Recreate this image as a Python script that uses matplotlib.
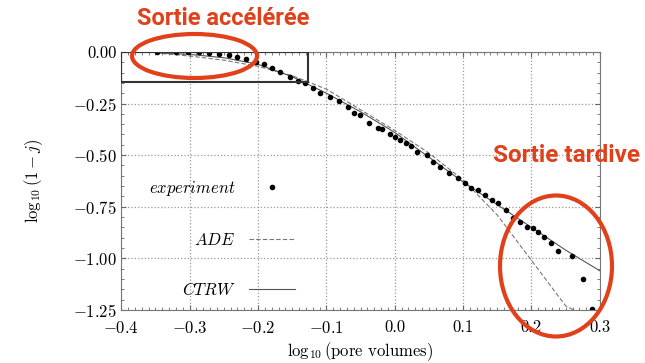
import matplotlib
matplotlib.use('Agg')
import matplotlib.pyplot as plt
from matplotlib.patches import Ellipse, Rectangle
from matplotlib.ticker import MultipleLocator

# experiment points
exp_x = [-0.348, -0.320, -0.302, -0.286, -0.271, -0.257, -0.243, -0.231, -0.218, -0.203,
         -0.191, -0.179, -0.168, -0.153, -0.141, -0.131, -0.119, -0.109, -0.095, -0.082,
         -0.069, -0.060, -0.051, -0.037, -0.024, -0.019, -0.007, 0.000, 0.008, 0.017,
         0.024, 0.032, 0.047, 0.056, 0.066, 0.080, 0.093, 0.103, 0.112, 0.122,
         0.132, 0.142, 0.151, 0.163, 0.173, 0.183, 0.193, 0.202, 0.210, 0.219,
         0.229, 0.239, 0.259, 0.276, 0.289]
exp_y = [0.000, 0.000, -0.001, -0.002, -0.005, -0.010, -0.015, -0.023, -0.035, -0.050,
         -0.060, -0.079, -0.097, -0.123, -0.139, -0.152, -0.176, -0.200, -0.217, -0.238,
         -0.268, -0.297, -0.305, -0.343, -0.369, -0.374, -0.398, -0.410, -0.426, -0.442,
         -0.455, -0.483, -0.499, -0.531, -0.556, -0.588, -0.612, -0.636, -0.661, -0.669,
         -0.693, -0.717, -0.733, -0.765, -0.806, -0.822, -0.846, -0.854, -0.871, -0.895,
         -0.927, -0.963, -0.987, -1.101, -1.247]

ade_x = [-0.35, -0.30, -0.25, -0.20, -0.15, -0.10, -0.05, 0.00, 0.05, 0.10, 0.15, 0.20, 0.25, 0.262]
ade_y = [-0.005, -0.02, -0.04, -0.07, -0.115, -0.18, -0.28, -0.38, -0.49, -0.62, -0.79, -1.01, -1.23, -1.25]

ctrw_x = [-0.35, -0.30, -0.25, -0.20, -0.15, -0.10, -0.05, 0.00, 0.05, 0.10, 0.15, 0.20, 0.25, 0.30]
ctrw_y = [-0.005, -0.012, -0.028, -0.06, -0.12, -0.2, -0.29, -0.39, -0.51, -0.63, -0.74, -0.85, -0.96, -1.06]

xticks = [-0.4, -0.3, -0.2, -0.1, 0.0, 0.1, 0.2, 0.3]
yticks = [0.00, -0.25, -0.50, -0.75, -1.00, -1.25]

plt.rcParams['font.family'] = 'serif'
plt.rcParams['font.serif'] = ['cmr10']
plt.rcParams['mathtext.fontset'] = 'cm'
plt.rcParams['axes.formatter.use_mathtext'] = True
plt.rcParams['axes.unicode_minus'] = True

fig = plt.figure(figsize=(6.45, 3.63), dpi=100)
ax = fig.add_axes([0.188, 0.146, 0.742, 0.711])

ax.plot(ade_x, ade_y, color='#777777', lw=0.8, ls=(0, (4, 2)), label='$ADE$')
ax.plot(ctrw_x, ctrw_y, color='#555555', lw=0.8, label='$CTRW$')
ax.plot(exp_x, exp_y, 'o', color='black', ms=3, label='$experiment$')

# box around the early points
ax.add_patch(Rectangle((-0.4, -0.145), 0.273, 0.145, fill=False, ec='#333333', lw=1.5, zorder=5))

ax.set_xlim(-0.4, 0.3)
ax.set_ylim(-1.25, 0.0)
ax.set_xticks(xticks)
ax.set_yticks(yticks)
ax.set_yticklabels(['%.2f' % v if v == 0 else '$-$%.2f' % -v for v in yticks])
ax.set_xticklabels(['%.1f' % v if v >= 0 else '$-$%.1f' % -v for v in xticks])
ax.xaxis.set_minor_locator(MultipleLocator(0.01))
ax.yaxis.set_minor_locator(MultipleLocator(0.05))
ax.tick_params(which='both', direction='in', top=True, right=True, color='#666666', labelsize=12)
ax.tick_params(axis='x', which='major', pad=7)
ax.tick_params(which='minor', length=2)
ax.grid(True, ls=':', color='#999999', lw=0.9)
for s in ax.spines.values():
    s.set_color('#777777')

ax.set_xlabel(r'$\log_{10}$(pore volumes)', fontsize=12, labelpad=3)
ax.set_ylabel(r'$\log_{10}(1-j)$', fontsize=12, labelpad=20)

h, l = ax.get_legend_handles_labels()
ax.legend([h[2], h[0], h[1]], [l[2], l[0], l[1]], loc='upper right', bbox_to_anchor=(0.395, 0.565),
          frameon=False, markerfirst=False, fontsize=12, labelspacing=2.0, handlelength=2.8)

# red annotations
red = '#e0401a'
fig.text(0.213, 0.948, 'Sortie accélérée', color=red, fontsize=17, fontweight='bold',
         family='Roboto', va='center')
fig.text(0.765, 0.572, 'Sortie tardive', color=red, fontsize=17.5, fontweight='bold',
         family='Roboto', va='center')
fig.add_artist(Ellipse((194.5 / 645, 1 - 56 / 363), 125 / 645, 44 / 363, transform=fig.transFigure,
                       fill=False, ec=red, lw=3))
fig.add_artist(Ellipse((556 / 645, 1 - 266 / 363), 112 / 645, 141 / 363, transform=fig.transFigure,
                       fill=False, ec=red, lw=3))

fig.savefig('out.png', dpi=100)
